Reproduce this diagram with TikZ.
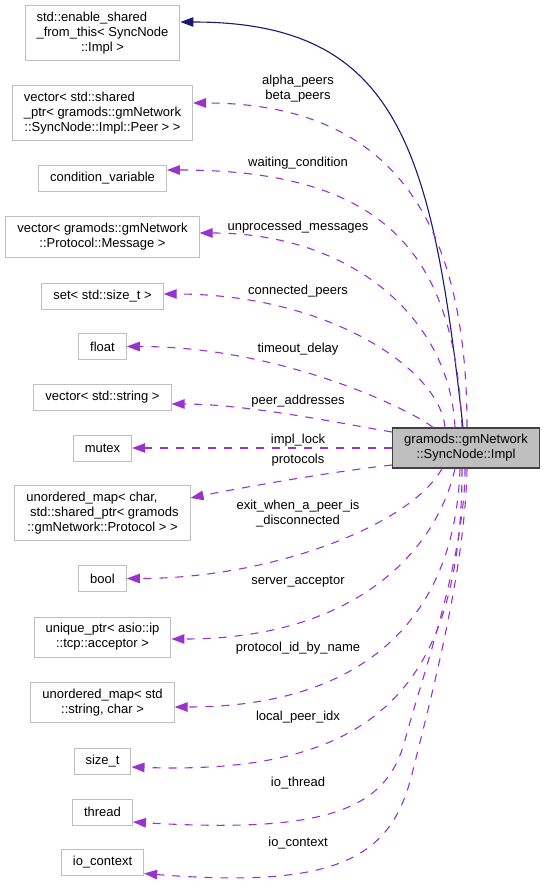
\documentclass[tikz,border=0pt]{standalone}
\usepackage{fontspec}
\setmainfont{Liberation Sans}
\usetikzlibrary{arrows.meta}
\definecolor{inheritblue}{RGB}{25,25,112}
\definecolor{usepurple}{RGB}{154,50,205}
\definecolor{boxgray}{RGB}{191,191,191}
\definecolor{implgray}{RGB}{191,191,191}
\definecolor{impldark}{RGB}{64,64,64}
\newcommand{\typelines}[2]{\begin{tabular}{@{}l@{}}#1\\\multicolumn{1}{@{}c@{}}{#2}\end{tabular}}

\begin{document}
\begin{tikzpicture}[
    x=1pt, y=-1pt,
    font=\fontsize{13}{15}\selectfont,
    typebox/.style={rectangle, draw=boxgray, fill=white, line width=1pt,
                    inner xsep=11.5pt, inner ysep=5pt, minimum height=26pt},
    implbox/.style={typebox, draw=impldark, fill=implgray, line width=1.3pt},
    varlabel/.style={inner sep=0pt, text height=9.5pt, text depth=2.5pt},
    varlabels/.style={inner sep=0pt, align=center},
    usage/.style={draw=usepurple, line width=1.1pt, dash pattern=on 8pt off 8pt,
                  -{Triangle[length=13pt,width=9.5pt]}},
    inherit/.style={draw=inheritblue, line width=1.1pt,
                    -{Triangle[length=13pt,width=9.5pt]}}
]
    \useasboundingbox (0,0) rectangle (545,893);

    % Class itself
    \node[implbox] (impl) at (466,448) {\begin{tabular}{@{}c@{}}gramods::gmNetwork\\::SyncNode::Impl\end{tabular}};

    % Base class and member types
    \node[typebox] (ensh) at (102.5,33.5) {\typelines{std::enable\_shared\\\_from\_this< SyncNode}{::Impl >}};
    \node[typebox] (peers) at (102.5,113.5) {\typelines{vector< std::shared\\\_ptr< gramods::gmNetwork}{::SyncNode::Impl::Peer > >}};
    \node[typebox] (cv) at (102.5,178.5) {condition\_variable};
    \node[typebox] (msgs) at (102.5,237) {\typelines{vector< gramods::gmNetwork}{::Protocol::Message >}};
    \node[typebox] (sizeset) at (102.5,296) {set< std::size\_t >};
    \node[typebox] (flt) at (102.5,346.5) {float};
    \node[typebox] (strvec) at (102.5,397.5) {vector< std::string >};
    \node[typebox] (mtx) at (102.5,448) {mutex};
    \node[typebox] (protomap) at (102.5,513) {\typelines{unordered\_map< char,\\\ std::shared\_ptr< gramods}{::gmNetwork::Protocol > >}};
    \node[typebox] (bool) at (102.5,578.5) {bool};
    \node[typebox] (acceptor) at (102.5,637) {\typelines{unique\_ptr< asio::ip}{::tcp::acceptor >}};
    \node[typebox] (idmap) at (102.5,702.5) {\typelines{unordered\_map< std}{::string, char >}};
    \node[typebox] (sizet) at (102.5,761.5) {size\_t};
    \node[typebox] (thrd) at (102.5,812) {thread};
    \node[typebox] (ioctx) at (102.5,862.5) {io\_context};

    % Inheritance
    \draw[inherit] ([xshift=-3pt]impl.north) .. controls +(-31,-278) and +(219,0) .. ([yshift=11.5pt]ensh.east);

    % Members
    \draw[usage] ([xshift=1pt]impl.north) .. controls +(0,-198) and +(206,0) .. ([yshift=10.5pt]peers.east);
    \draw[usage] ([xshift=-4pt]impl.north) .. controls +(-7,-168) and +(224,0) .. ([yshift=8.5pt]cv.east);
    \draw[usage] ([xshift=-11pt]impl.north) .. controls +(-5,-108) and +(153,0) .. ([yshift=4pt]msgs.east);
    \draw[usage] ([xshift=-21pt]impl.north) .. controls +(-5,-58) and +(164,0) .. ([yshift=2pt]sizeset.east);
    \draw[usage] ([xshift=-33pt]impl.north) .. controls +(-23,-18) and +(154,0) .. (flt.east);
    \draw[usage] ([yshift=16pt]impl.west) .. controls +(-43,-7) and +(77,0) .. ([yshift=-6.5pt]strvec.east);
    \draw[usage] (impl.west) -- (mtx.east);
    \draw[usage] ([yshift=-17pt]impl.west) .. controls +(-63,7) and +(49,-10) .. ([yshift=15pt]protomap.east);
    \draw[usage] ([xshift=-24pt]impl.south) .. controls +(-32,57) and +(144,0) .. (bool.east);
    \draw[usage] ([xshift=-11pt]impl.south) .. controls +(-20,87) and +(179,0) .. ([yshift=-2pt]acceptor.east);
    \draw[usage] ([xshift=-6pt]impl.south) .. controls +(-5,152) and +(187,0) .. ([yshift=-4.5pt]idmap.east);
    \draw[usage] ([xshift=-4pt]impl.south) .. controls +(0,232) and +(229,8) .. ([yshift=-5.5pt]sizet.east);
    \draw[usage] ([xshift=-1pt]impl.south) .. controls +(0,90) and +(16,-60) .. (405,740)
                 .. controls +(-18,68) and +(198,12) .. ([yshift=-10pt]thrd.east);
    \draw[usage] ([xshift=1pt]impl.south) .. controls +(-2,100) and +(20,-80) .. (413,770)
                 .. controls +(-20,85) and +(200,16) .. ([yshift=-11pt]ioctx.east);

    % Member names
    \node[varlabels] (lpeers) at (298,88.5) {alpha\_peers\\beta\_peers};
    \node[varlabel] (lwait) at (298,163) {waiting\_condition};
    \node[varlabel] (lmsgs) at (298,227) {unprocessed\_messages};
    \node[varlabel] (lconn) at (298,291) {connected\_peers};
    \node[varlabel] (ltime) at (298,349) {timeout\_delay};
    \node[varlabel] (laddr) at (298,401) {peer\_addresses};
    \node[varlabel] (llock) at (298,440) {impl\_lock};
    \node[varlabel] (lproto) at (298,460) {protocols};
    \node[varlabels] (lexit) at (298,514) {exit\_when\_a\_peer\_is\\\_disconnected};
    \node[varlabel] (lacc) at (298,581) {server\_acceptor};
    \node[varlabel] (lidmap) at (298,648) {protocol\_id\_by\_name};
    \node[varlabel] (lidx) at (298,717) {local\_peer\_idx};
    \node[varlabel] (lthrd) at (298,783) {io\_thread};
    \node[varlabel] (lctx) at (298,843) {io\_context};
\end{tikzpicture}
\end{document}
